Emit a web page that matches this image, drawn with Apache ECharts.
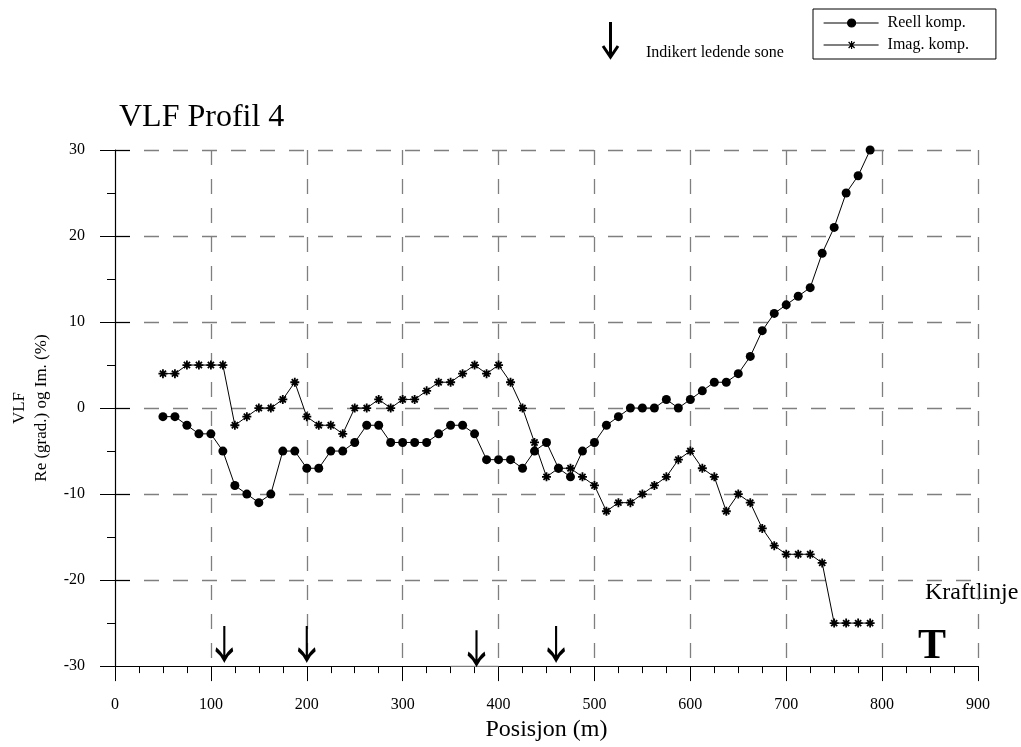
<!DOCTYPE html>
<html>
<head>
<meta charset="utf-8">
<script src="https://cdn.jsdelivr.net/npm/echarts@6/dist/echarts.min.js"></script>
<style>html,body{margin:0;padding:0;background:#fff}#c{width:1021px;height:747px}</style>
</head>
<body>
<div id="c"></div>
<script>
const positions = [50,62.5,75,87.5,100,112.5,125,137.5,150,162.5,175,187.5,200,212.5,225,237.5,250,262.5,275,287.5,300,312.5,325,337.5,350,362.5,375,387.5,400,412.5,425,437.5,450,462.5,475,487.5,500,512.5,525,537.5,550,562.5,575,587.5,600,612.5,625,637.5,650,662.5,675,687.5,700,712.5,725,737.5,750,762.5,775,787.5];
const reell = [-1,-1,-2,-3,-3,-5,-9,-10,-11,-10,-5,-5,-7,-7,-5,-5,-4,-2,-2,-4,-4,-4,-4,-3,-2,-2,-3,-6,-6,-6,-7,-5,-4,-7,-8,-5,-4,-2,-1,0,0,0,1,0,1,2,3,3,4,6,9,11,12,13,14,18,21,25,27,30];
const imag = [4,4,5,5,5,5,-2,-1,0,0,1,3,-1,-2,-2,-3,0,0,1,0,1,1,2,3,3,4,5,4,5,3,0,-4,-8,-7,-7,-8,-9,-12,-11,-11,-10,-9,-8,-6,-5,-7,-8,-12,-10,-11,-14,-16,-17,-17,-17,-18,-25,-25,-25,-25];
const arrowX = [114, 200, 377, 460];
const arrowY = [-27.3, -27.3, -27.8, -27.3];
const axisGap = [350, 400];
const xTicks = [0,100,200,300,400,500,600,700,800,900];
const yTicks = [-30,-20,-10,0,10,20,30];

const FONT = '"Liberation Serif", "Times New Roman", serif';
const asterisk = 'path://M5,0L5,10M0,5L10,5M1.6,1.6L8.4,8.4M1.6,8.4L8.4,1.6';
const arrowPath = 'path://M10,0L10,34M2.5,24Q7,28 10,35Q13,28 17.5,24';
const legendDot = 'path://M0,4L55,4M24,4a4,4 0 1,0 8,0a4,4 0 1,0 -8,0Z';
const legendStar = 'path://M0,4L55,4M28,0L28,8M24,4L32,4M25,1L31,7M25,7L31,1';

const gridLine = {show: true, showMinLine: false, lineStyle: {color: '#7f7f7f', width: 1.3, type: [15, 14]}};

const chart = echarts.init(document.getElementById('c'), null, {renderer: 'canvas'});
chart.setOption({
  animation: false,
  backgroundColor: '#fff',
  textStyle: {fontFamily: FONT, color: '#000'},
  title: {
    text: 'VLF Profil 4', left: 114, top: 97,
    textStyle: {fontFamily: FONT, fontSize: 32, fontWeight: 'normal', color: '#000'}
  },
  legend: {
    orient: 'vertical', left: 813, top: 9,
    padding: [6, 27, 6, 10], itemGap: 6,
    itemWidth: 55, itemHeight: 8,
    borderColor: '#000', borderWidth: 1, borderRadius: 0,
    itemStyle: {color: '#000', borderColor: '#000', borderWidth: 1.2},
    textStyle: {fontFamily: FONT, fontSize: 16, color: '#000', padding: [0, 0, 0, 4]},
    data: [{name: 'Reell komp.', icon: legendDot}, {name: 'Imag. komp.', icon: legendStar}]
  },
  grid: {left: 115, right: 43, top: 150, bottom: 79},
  xAxis: {
    type: 'value', min: 0, max: 900, interval: 100,
    name: 'Posisjon (m)', nameLocation: 'middle', nameGap: 49,
    nameTextStyle: {fontFamily: FONT, fontSize: 24, color: '#000'},
    axisLine: {show: true, onZero: false, lineStyle: {color: '#000', width: 1.2}},
    axisTick: {show: true, length: 15, lineStyle: {color: '#000'}},
    minorTick: {show: true, splitNumber: 4, length: 7, lineStyle: {color: '#000'}},
    axisLabel: {margin: 31, fontFamily: FONT, fontSize: 16, color: '#000',
      formatter: v => xTicks.includes(v) ? String(v) : ''},
    splitLine: gridLine
  },
  yAxis: [{
    type: 'value', min: -30, max: 30, interval: 10,
    name: 'VLF\nRe (grad.) og Im. (%)', nameLocation: 'middle', nameGap: 62, nameRotate: 90,
    nameTextStyle: {fontFamily: FONT, fontSize: 17, color: '#000', lineHeight: 22},
    axisLine: {show: true, onZero: false, lineStyle: {color: '#000', width: 1.2}},
    axisTick: {show: true, length: 15, lineStyle: {color: '#000'}},
    minorTick: {show: true, splitNumber: 2, length: 8, lineStyle: {color: '#000'}},
    axisLabel: {margin: 30, fontFamily: FONT, fontSize: 16, color: '#000',
      formatter: v => yTicks.includes(v) ? String(v) : ''},
    splitLine: gridLine
  }, {
    type: 'value', min: -30, max: 30, interval: 10, position: 'left',
    axisLine: {show: false}, axisLabel: {show: false}, splitLine: {show: false},
    axisTick: {show: true, inside: true, length: 15, lineStyle: {color: '#000'}}
  }],
  series: [
    {
      name: 'Reell komp.', type: 'line',
      data: positions.map((x, i) => [x, reell[i]]),
      symbol: 'circle', symbolSize: 9,
      lineStyle: {color: '#000', width: 1},
      itemStyle: {color: '#000', borderWidth: 0}
    },
    {
      name: 'Imag. komp.', type: 'line',
      data: positions.map((x, i) => [x, imag[i]]),
      symbol: asterisk, symbolSize: 9,
      lineStyle: {color: '#000', width: 1},
      itemStyle: {color: '#000', borderColor: '#000', borderWidth: 1.8}
    },
    {
      name: 'gap', type: 'line', silent: true, z: 4,
      data: axisGap.map(x => [x, -30]),
      symbol: 'none', lineStyle: {color: '#d9d9d9', width: 1.5}
    },
    {
      name: 'arrows', type: 'scatter',
      data: arrowX.map((x, i) => [x, arrowY[i]]),
      symbol: arrowPath, symbolSize: [17, 34],
      itemStyle: {color: 'rgba(0,0,0,0)', borderColor: '#000', borderWidth: 3, opacity: 1},
      z: 5, silent: true
    }
  ],
  graphic: [
    {type: 'line', shape: {x1: 610.5, y1: 22, x2: 610.5, y2: 56}, style: {stroke: '#000', lineWidth: 3}},
    {type: 'polyline', shape: {points: [[603, 46], [610.5, 57], [618, 46]]}, style: {stroke: '#000', fill: null, lineWidth: 3}},
    {type: 'text', left: 646, top: 45, style: {text: 'Indikert ledende sone', font: '16px ' + FONT, fill: '#000'}},
    {type: 'text', left: 925, top: 581, style: {text: 'Kraftlinje', font: '24px ' + FONT, fill: '#000'}},
    {type: 'text', left: 918, top: 626, style: {text: 'T', font: 'bold 42px ' + FONT, fill: '#000'}}
  ]
});
</script>
</body>
</html>
